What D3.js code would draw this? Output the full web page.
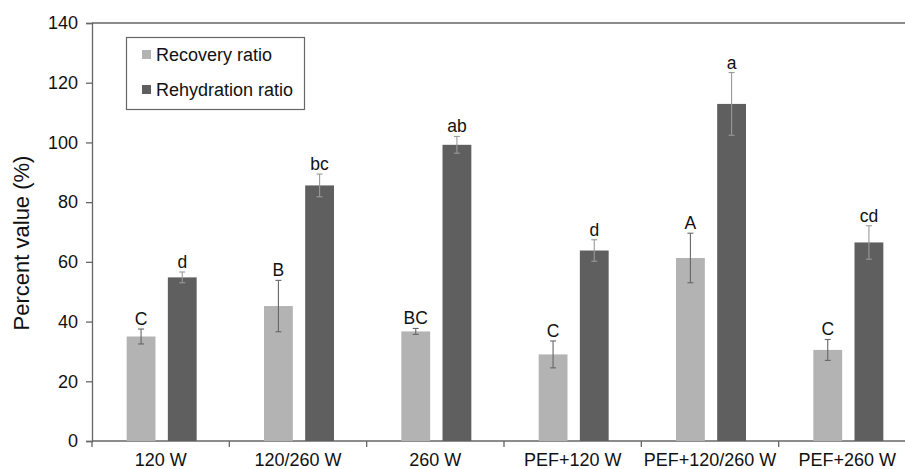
<!DOCTYPE html>
<html>
<head>
<meta charset="utf-8">
<script src="https://cdn.jsdelivr.net/npm/d3@7"></script>
<style>
  body { margin: 0; background: #fff; }
  text { font-family: "Liberation Sans", Arial, sans-serif; }
</style>
</head>
<body>
<script>
// data
const categories = ['120 W', '120/260 W', '260 W', 'PEF+120 W', 'PEF+120/260 W', 'PEF+260 W'];
const seriesNames = ['Recovery ratio', 'Rehydration ratio'];
const recovery = [35, 45.2, 36.7, 29, 61.3, 30.5];
const recoveryErr = [2.5, 8.6, 1, 4.5, 8.3, 3.5];
const rehydration = [54.8, 85.6, 99.2, 63.8, 112.9, 66.5];
const rehydrationErr = [1.8, 3.8, 2.8, 3.6, 10.5, 5.6];
const recoveryLetters = ['C', 'B', 'BC', 'C', 'A', 'C'];
const rehydrationLetters = ['d', 'bc', 'ab', 'd', 'a', 'cd'];
const yTicks = [0, 20, 40, 60, 80, 100, 120, 140];

const width = 905;
const height = 469;
const colors = ['#b3b3b3', '#5f5f5f'];

const svg = d3.select('body').append('svg').attr('width', width).attr('height', height);

const mLeft = 92, mTop = 23, mBottom = 441, mRight = 916;

const x = d3.scaleBand().domain(categories).range([mLeft, mRight]).padding(0);
const x1 = d3.scaleBand().domain([0, 1]).range([-34, 36]).paddingInner(0.3);
const y = d3.scaleLinear().domain([0, 140]).range([mBottom, mTop]);

// top frame line
svg.append('line')
  .attr('x1', mLeft).attr('x2', width).attr('y1', mTop).attr('y2', mTop)
  .attr('stroke', '#666').attr('stroke-width', 1.3);

// y axis
const yAxis = svg.append('g')
  .attr('transform', `translate(${mLeft},0)`)
  .call(d3.axisLeft(y).tickValues(yTicks).tickSize(6).tickPadding(8));
yAxis.select('.domain').attr('stroke', '#666').attr('stroke-width', 1.3);
yAxis.selectAll('.tick line').attr('stroke', '#666').attr('stroke-width', 1.3);
yAxis.selectAll('.tick text')
  .attr('font-size', '18px').attr('fill', '#111')
  .style('font-family', '"Liberation Sans", Arial, sans-serif');

// x axis with boundary ticks between categories
const xAxis = svg.append('g').attr('transform', `translate(0,${mBottom})`);
xAxis.append('line')
  .attr('x1', mLeft).attr('x2', mRight).attr('stroke', '#666').attr('stroke-width', 1.3);
xAxis.selectAll('line.tk')
  .data(categories)
  .join('line')
  .attr('class', 'tk')
  .attr('x1', (d) => x(d)).attr('x2', (d) => x(d))
  .attr('y1', 0).attr('y2', 6)
  .attr('stroke', '#666').attr('stroke-width', 1.3);
xAxis.selectAll('text')
  .data(categories)
  .join('text')
  .attr('x', (d) => x(d) + x.bandwidth() / 2)
  .attr('y', 25)
  .attr('text-anchor', 'middle')
  .attr('font-size', '18px')
  .attr('fill', '#111')
  .text((d) => d);

// y title
svg.append('text')
  .attr('transform', 'translate(29,243) rotate(-90)')
  .attr('text-anchor', 'middle')
  .attr('font-size', '22px')
  .attr('fill', '#111')
  .text('Percent value (%)');

// bars
const series = [
  { values: recovery, errs: recoveryErr, letters: recoveryLetters },
  { values: rehydration, errs: rehydrationErr, letters: rehydrationLetters }
];

series.forEach((s, i) => {
  const g = svg.append('g');
  const rows = categories.map((c, j) => ({ c, v: s.values[j], e: s.errs[j], l: s.letters[j] }));
  const cx = (d) => x(d.c) + x.bandwidth() / 2 + x1(i);

  g.selectAll('rect')
    .data(rows)
    .join('rect')
    .attr('x', cx)
    .attr('y', (d) => y(d.v))
    .attr('width', x1.bandwidth())
    .attr('height', (d) => y(0) - y(d.v))
    .attr('fill', colors[i]);

  const mid = (d) => cx(d) + x1.bandwidth() / 2;
  const err = g.selectAll('g.err')
    .data(rows)
    .join('g')
    .attr('class', 'err')
    .attr('stroke', i === 0 ? '#666' : '#999')
    .attr('stroke-width', 1.1);
  err.append('line')
    .attr('x1', mid).attr('x2', mid)
    .attr('y1', (d) => y(d.v + d.e)).attr('y2', (d) => y(d.v - d.e));
  err.append('line')
    .attr('x1', (d) => mid(d) - 3).attr('x2', (d) => mid(d) + 3)
    .attr('y1', (d) => y(d.v + d.e)).attr('y2', (d) => y(d.v + d.e));
  err.append('line')
    .attr('x1', (d) => mid(d) - 3).attr('x2', (d) => mid(d) + 3)
    .attr('y1', (d) => y(d.v - d.e)).attr('y2', (d) => y(d.v - d.e));

  g.selectAll('text')
    .data(rows)
    .join('text')
    .attr('x', mid)
    .attr('y', (d) => y(d.v + d.e) - 4)
    .attr('text-anchor', 'middle')
    .attr('font-size', '17.5px')
    .attr('fill', '#111')
    .text((d) => d.l);
});

// legend
const legend = svg.append('g');
legend.append('rect')
  .attr('x', 126.5).attr('y', 37.5).attr('width', 178).attr('height', 72)
  .attr('fill', '#fff').attr('stroke', '#666').attr('stroke-width', 1.2);
const li = legend.selectAll('g.item')
  .data(seriesNames)
  .join('g')
  .attr('class', 'item')
  .attr('transform', (d, i) => `translate(142,${55 + i * 35})`);
li.append('rect')
  .attr('x', 0).attr('y', -5).attr('width', 9).attr('height', 9)
  .attr('fill', (d, i) => colors[i]);
li.append('text')
  .attr('x', 14).attr('y', 6)
  .attr('font-size', '18px')
  .attr('fill', '#111')
  .text((d) => d);
</script>
</body>
</html>
